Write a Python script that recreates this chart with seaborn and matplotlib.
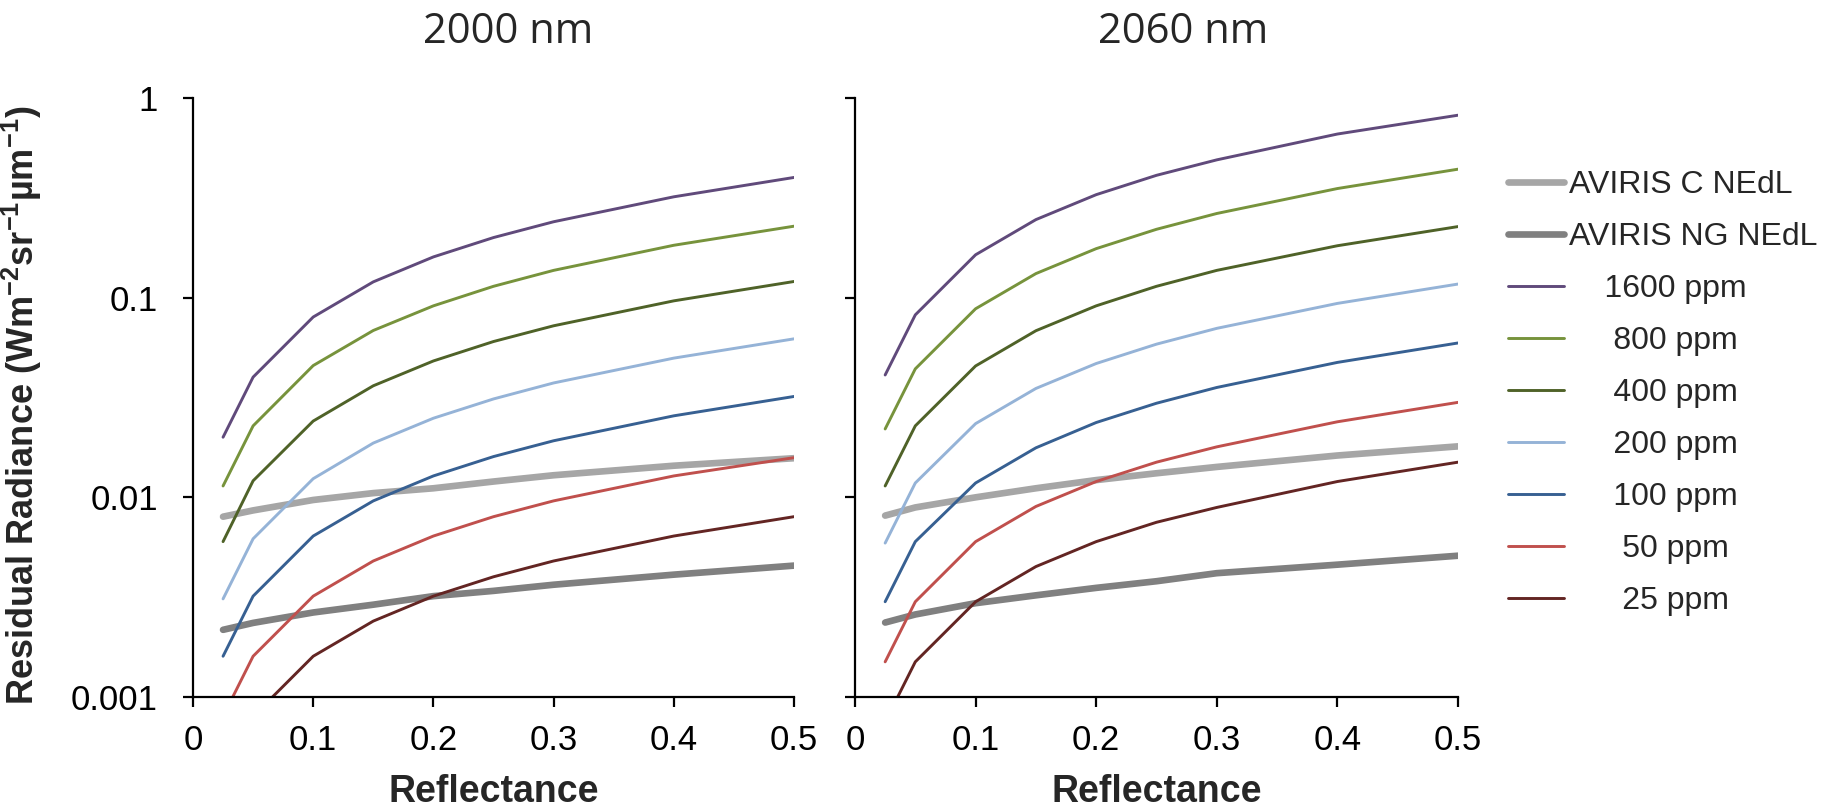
import numpy as np
import pandas as pd
import matplotlib
matplotlib.use('Agg')
import matplotlib.pyplot as plt
from matplotlib.ticker import FixedLocator, NullLocator
import seaborn as sns

# reflectance sampled at these points
reflectance = [0.025, 0.05, 0.1, 0.15, 0.2, 0.25, 0.3, 0.4, 0.5]

# 2000 nm panel
c_2000 = [0.0080, 0.0086, 0.0097, 0.0105, 0.0111, 0.0120, 0.0129, 0.0144, 0.0157]
ng_2000 = [0.00217, 0.00235, 0.00265, 0.0029, 0.0032, 0.0034, 0.00365, 0.0041, 0.00455]
ppm1600_2000 = [0.020, 0.040, 0.080, 0.120, 0.160, 0.200, 0.240, 0.320, 0.400]
ppm800_2000 = [0.0114, 0.0228, 0.0457, 0.0685, 0.091, 0.114, 0.137, 0.183, 0.228]
ppm400_2000 = [0.0060, 0.0121, 0.0241, 0.0362, 0.0482, 0.0603, 0.0723, 0.0964, 0.1205]
ppm200_2000 = [0.0031, 0.0062, 0.0124, 0.0187, 0.0249, 0.0311, 0.0374, 0.0498, 0.0622]
ppm100_2000 = [0.0016, 0.0032, 0.0064, 0.0096, 0.0128, 0.0160, 0.0192, 0.0256, 0.0320]
ppm50_2000 = [0.0008, 0.0016, 0.0032, 0.0048, 0.0064, 0.0080, 0.0096, 0.0128, 0.0158]
ppm25_2000 = [0.0004, 0.0008, 0.0016, 0.0024, 0.0032, 0.0040, 0.0048, 0.0064, 0.0080]

# 2060 nm panel
c_2060 = [0.0081, 0.0089, 0.0100, 0.0111, 0.0122, 0.0132, 0.0142, 0.0162, 0.0180]
ng_2060 = [0.00236, 0.00259, 0.00295, 0.00323, 0.00352, 0.0038, 0.00417, 0.0046, 0.0051]
ppm1600_2060 = [0.041, 0.082, 0.164, 0.246, 0.328, 0.410, 0.490, 0.660, 0.820]
ppm800_2060 = [0.022, 0.044, 0.088, 0.132, 0.176, 0.220, 0.264, 0.352, 0.440]
ppm400_2060 = [0.0114, 0.0228, 0.0455, 0.0683, 0.091, 0.114, 0.137, 0.182, 0.227]
ppm200_2060 = [0.0059, 0.0118, 0.0234, 0.0351, 0.0468, 0.0585, 0.0702, 0.0936, 0.1170]
ppm100_2060 = [0.0030, 0.0060, 0.0118, 0.0177, 0.0237, 0.0296, 0.0355, 0.0474, 0.0593]
ppm50_2060 = [0.0015, 0.0030, 0.0060, 0.0090, 0.0120, 0.0150, 0.0179, 0.0239, 0.0299]
ppm25_2060 = [0.00075, 0.0015, 0.0030, 0.0045, 0.0060, 0.0075, 0.0089, 0.0120, 0.0150]

series_labels = ['AVIRIS C NEdL', 'AVIRIS NG NEdL', '1600 ppm', '800 ppm', '400 ppm',
                 '200 ppm', '100 ppm', '50 ppm', '25 ppm']
# excel-style padded labels, ppm entries look centred
legend_labels = ['AVIRIS C NEdL', 'AVIRIS NG NEdL', '    1600 ppm', '     800 ppm',
                 '     400 ppm', '     200 ppm', '     100 ppm', '      50 ppm', '      25 ppm']
colors = ['#a6a6a6', '#808080', '#604a7b', '#77933c', '#4f6228', '#95b3d7', '#376092',
          '#c0504d', '#632523']
widths = [4.8, 4.8, 2.1, 2.1, 2.1, 2.1, 2.1, 2.1, 2.1]

panels = {
    '2000 nm': [c_2000, ng_2000, ppm1600_2000, ppm800_2000, ppm400_2000, ppm200_2000,
                ppm100_2000, ppm50_2000, ppm25_2000],
    '2060 nm': [c_2060, ng_2060, ppm1600_2060, ppm800_2060, ppm400_2060, ppm200_2060,
                ppm100_2060, ppm50_2060, ppm25_2060],
}

sns.set_style('ticks')
plt.rcParams['font.family'] = ['Liberation Sans', 'DejaVu Sans']
plt.rcParams['mathtext.fontset'] = 'custom'
plt.rcParams['mathtext.rm'] = 'Liberation Sans'
plt.rcParams['mathtext.bf'] = 'Liberation Sans:bold'

W, H = 1832, 807
fig = plt.figure(figsize=(W / 100, H / 100), dpi=100)
ax1 = fig.add_axes([193 / W, 1 - 697 / H, 601 / W, 599 / H])
ax2 = fig.add_axes([855 / W, 1 - 697 / H, 603 / W, 599 / H])

for ax, (title, vals) in zip([ax1, ax2], panels.items()):
    for lab, v, col, lw in zip(series_labels, vals, colors, widths):
        df = pd.DataFrame({'Reflectance': reflectance, 'Radiance': v})
        sns.lineplot(data=df, x='Reflectance', y='Radiance', ax=ax, color=col, lw=lw,
                     solid_capstyle='round', label=lab, legend=False)
    ax.set_yscale('log')
    ax.set_ylim(0.001, 1)
    ax.set_xlim(0, 0.5)
    ax.yaxis.set_major_locator(FixedLocator([0.001, 0.01, 0.1, 1]))
    ax.yaxis.set_minor_locator(NullLocator())
    ax.set_xticks([0, 0.1, 0.2, 0.3, 0.4, 0.5])
    ax.set_xticklabels(['0', '0.1', '0.2', '0.3', '0.4', '0.5'])
    sns.despine(ax=ax)
    for s in ['left', 'bottom']:
        ax.spines[s].set_linewidth(1.6)
        ax.spines[s].set_color('black')
    ax.tick_params(axis='both', length=7.2, width=1.6, color='black', labelcolor='black',
                   labelsize=25)
    ax.tick_params(axis='x', pad=12)
    ax.tick_params(axis='y', pad=18)
    ax.set_xlabel('Reflectance', fontsize=27, fontweight='bold')
    ax.xaxis.set_label_coords(0.5, -0.128)
    ax.set_ylabel('')

ax1.set_yticklabels(['0.001', '0.01', '0.1', '1'])
ax2.set_yticklabels([])
ax1.set_ylabel(r'Residual Radiance (Wm$^{\mathbf{-2}}$sr$^{\mathbf{-1}}$µm$^{\mathbf{-1}}$)',
               fontsize=26, fontweight='bold')
ax1.yaxis.set_label_coords(-0.248, 0.487)

fig.text(508 / W, 1 - 43 / H, '2000 nm', ha='center', va='baseline',
         fontsize=30, family=['Open Sans', 'DejaVu Sans'])
fig.text(1183 / W, 1 - 43 / H, '2060 nm', ha='center', va='baseline',
         fontsize=30, family=['Open Sans', 'DejaVu Sans'])

h, _ = ax1.get_legend_handles_labels()
fig.legend(h, legend_labels, loc='upper left', bbox_to_anchor=(1508 / W, 1 - 170 / H),
           frameon=False, fontsize=23, handlelength=1.75, handletextpad=0.15,
           labelspacing=0.69, borderpad=0, borderaxespad=0)

fig.savefig('out.png', dpi=100)
